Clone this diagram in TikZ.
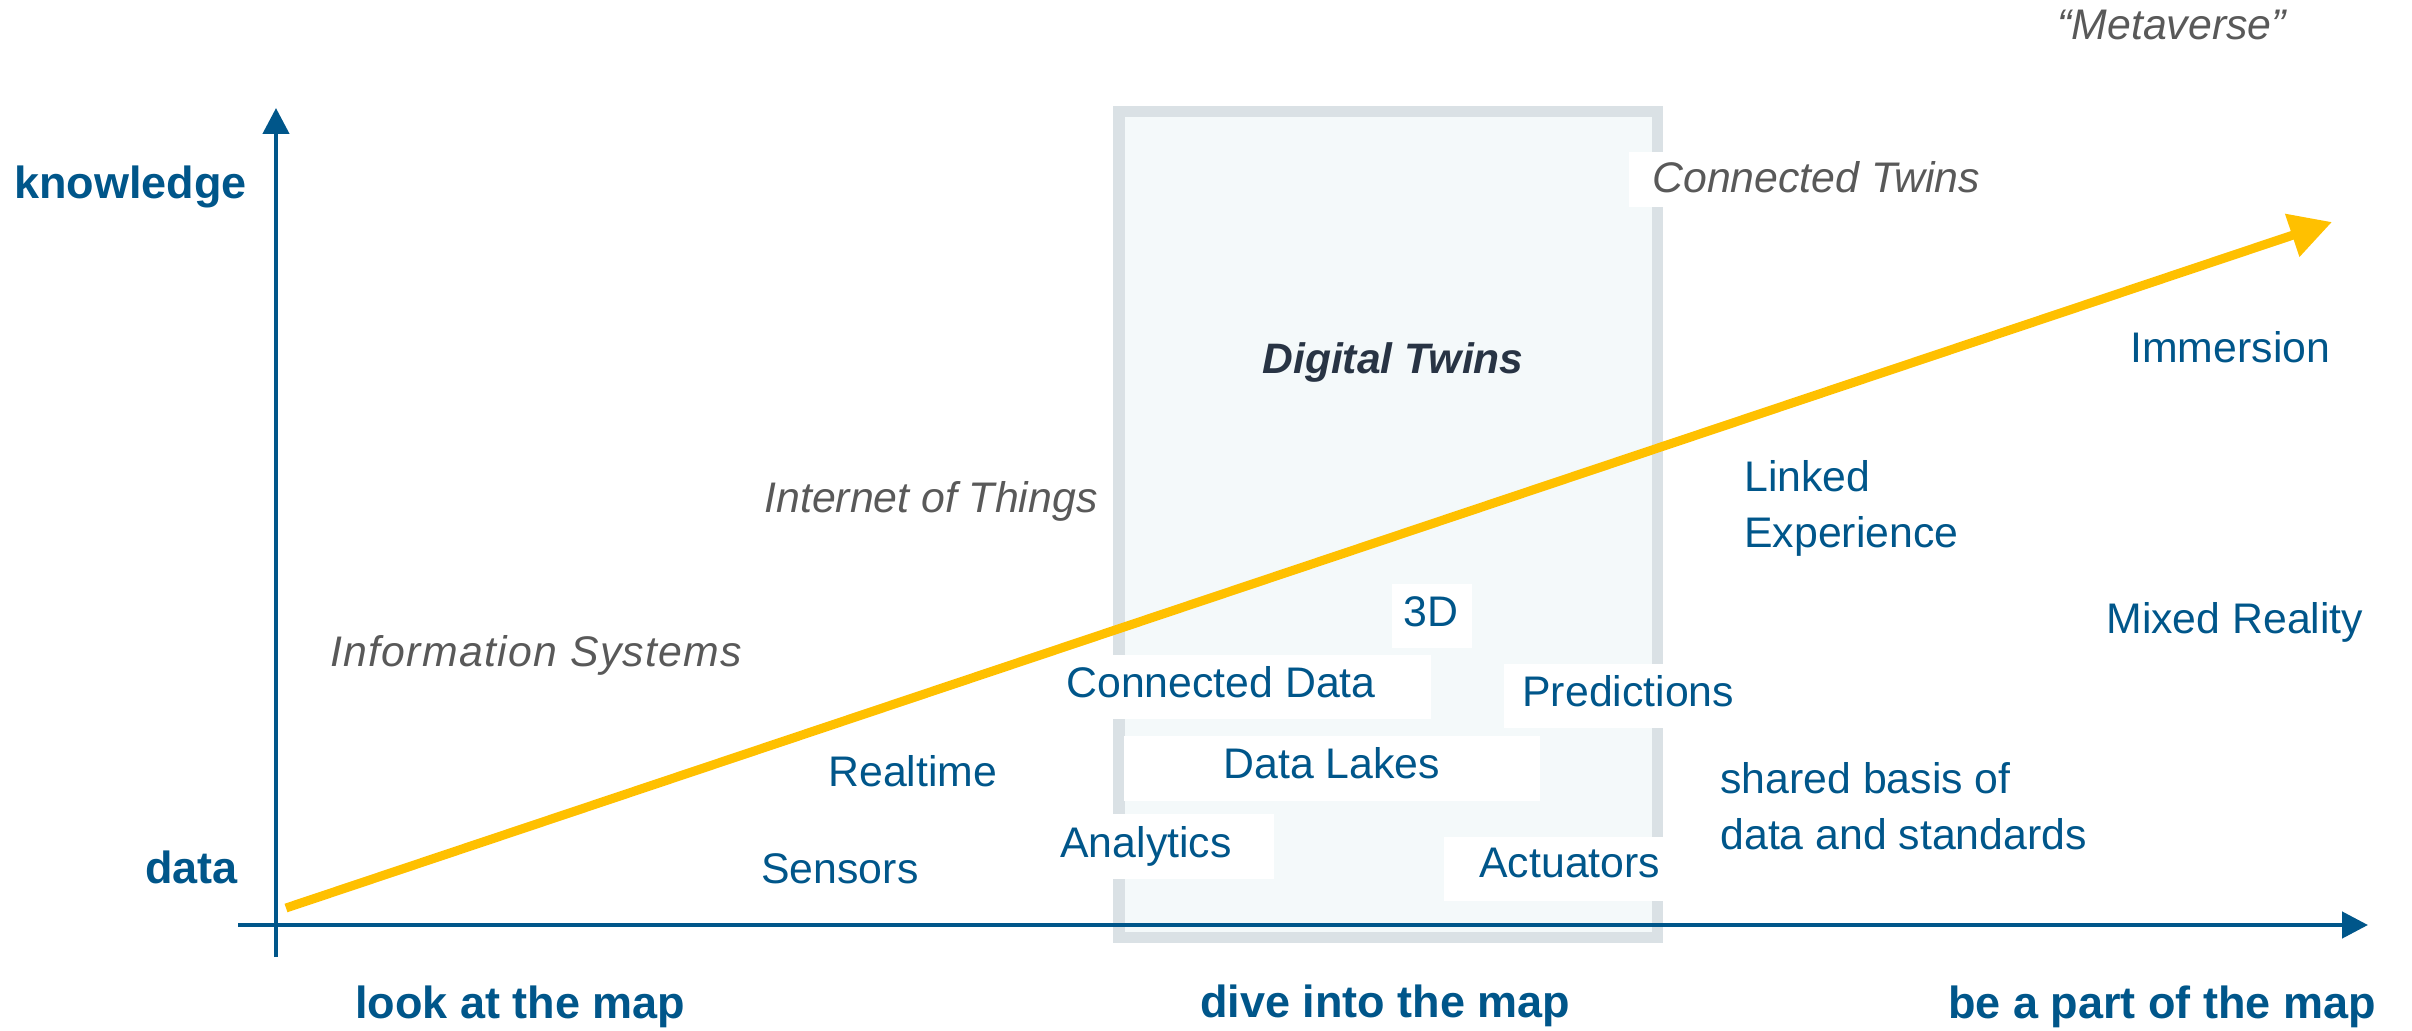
\documentclass[tikz,border=0pt]{standalone}
\usepackage{fontspec}
\setmainfont{Liberation Sans}
\usetikzlibrary{arrows.meta}

\definecolor{axisblue}{RGB}{0,86,138}
\definecolor{labelgrey}{RGB}{89,89,89}
\definecolor{trendyellow}{RGB}{255,192,0}
\definecolor{frameedge}{RGB}{218,225,229}
\definecolor{framefill}{RGB}{244,249,250}
\definecolor{titledark}{RGB}{40,52,68}

\tikzset{
  lbl/.style={inner sep=0pt, anchor=base west, text=axisblue, font=\fontsize{21.4}{25}\selectfont},
  era/.style={inner sep=0pt, anchor=base west, text=labelgrey, font=\fontsize{21.4}{25}\selectfont\itshape},
  axislbl/.style={inner sep=0pt, anchor=base west, text=axisblue, font=\fontsize{22.5}{27}\selectfont\bfseries},
  axisline/.style={draw=axisblue, line width=2.25pt, -{Triangle[length=13pt,width=13pt]}},
  trend/.style={draw=trendyellow, line width=4.5pt, -{Triangle[length=21pt,width=21.5pt]}},
  mask/.style={fill=white}
}

\begin{document}
\begin{tikzpicture}[x=0.5pt, y=-0.5pt]
\useasboundingbox (0,0) rectangle (2412,1031);

% the "Digital Twins" zone
\draw[draw=frameedge, fill=framefill, line width=5.75pt]
  (1118.75,111.75) rectangle (1657.25,937.25);

% white label plates that sit over the zone frame
\fill[mask] (1629,152) rectangle (1990,207);
\fill[mask] (1392,584) rectangle (1472,648);
\fill[mask] (1060,655) rectangle (1431,719);
\fill[mask] (1504,664) rectangle (1680,728);
\fill[mask] (1124,736) rectangle (1540,801);
\fill[mask] (1050,814) rectangle (1274,879);
\fill[mask] (1444,837) rectangle (1680,901);

% axes
\coordinate (xstart) at (238,925);
\coordinate (xend) at (2368,925);
\coordinate (ystart) at (276,957);
\coordinate (yend) at (276,108);
\draw[axisline] (xstart) -- (xend);
\draw[axisline] (ystart) -- (yend);

% trend arrow from data to knowledge
\coordinate (tstart) at (286,908);
\coordinate (tend) at (2332,222);
\draw[trend] (tstart) -- (tend);

% axis labels
\node[axislbl] (knowledge) at (14,199) {knowledge};
\node[axislbl, anchor=base east] (data) at (238,883) {data};
\node[axislbl] (look) at (355,1018) {look at the map};
\node[axislbl] (dive) at (1200,1017) {dive into the map};
\node[axislbl] (bepart) at (1948,1018) {be a part of the map};

% eras
\node[era] (metaverse) at (2057,40) {“Metaverse”};
\node[era] (ctwins) at (1652,193) {Connected Twins};
\node[era] (iot) at (764,512) {Internet of Things};
\node[era, font=\fontsize{21.4}{25}\selectfont\itshape\addfontfeatures{LetterSpace=3}]
  (infosys) at (330,666) {Information Systems};
\node[inner sep=0pt, anchor=base west, text=titledark,
      font=\fontsize{21.3}{25}\selectfont\bfseries\itshape] (dtwins) at (1262,374) {Digital Twins};

% capabilities
\node[lbl] (immersion) at (2130,363) {Immersion};
\node[lbl] (linked) at (1744,492) {Linked};
\node[lbl] (experience) at (1744,547) {Experience};
\node[lbl, anchor=base] (threed) at (1431,626) {3D};
\node[lbl] (mixed) at (2106,633) {Mixed Reality};
\node[lbl] (cdata) at (1066,697) {Connected Data};
\node[lbl] (predictions) at (1522,706) {Predictions};
\node[lbl] (lakes) at (1223,778) {Data Lakes};
\node[lbl] (realtime) at (828,786) {Realtime};
\node[lbl] (shared) at (1720,793) {shared basis of};
\node[lbl] (standards) at (1720,849) {data and standards};
\node[lbl] (analytics) at (1060,857) {Analytics};
\node[lbl] (actuators) at (1479,877) {Actuators};
\node[lbl] (sensors) at (761,883) {Sensors};
\end{tikzpicture}
\end{document}
